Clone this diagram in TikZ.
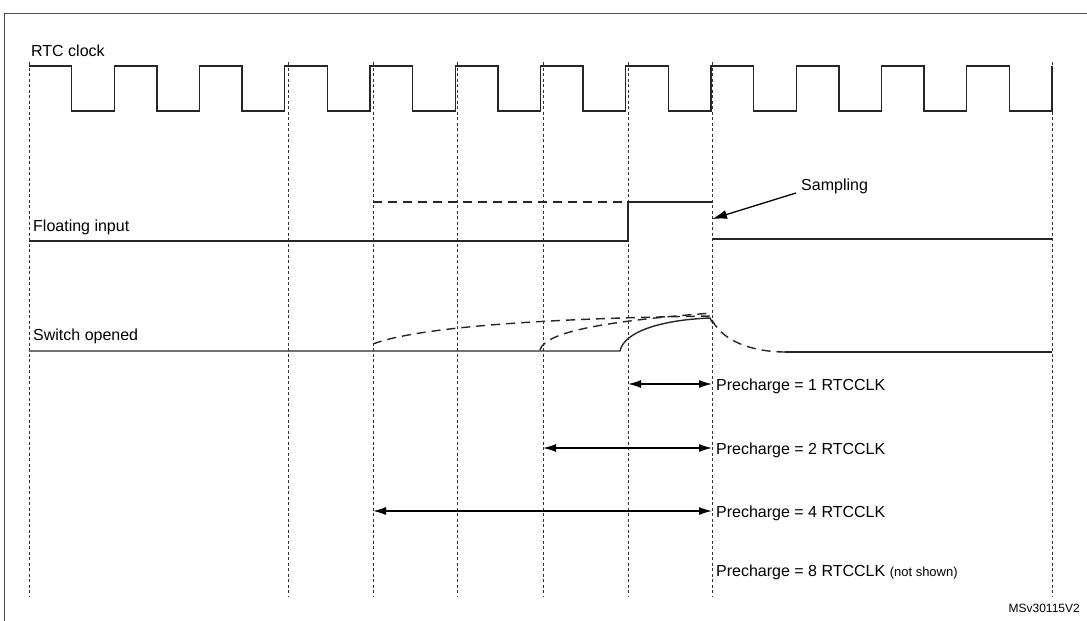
\documentclass[tikz,border=0pt]{standalone}
\usepackage{fontspec}
\setmainfont{Liberation Sans}
\begin{document}
\begin{tikzpicture}[x=1pt,y=-1pt,
  sig/.style={line width=1.4pt,black!85},
  dsig/.style={line width=1.4pt,black!85,dash pattern=on 9pt off 6pt},
  grid/.style={line width=0.7pt,black!80,dash pattern=on 3pt off 2.5pt},
  lbl/.style={font=\fontsize{16}{19}\selectfont,inner sep=0pt,anchor=base west},
  dim/.style={line width=1.3pt,{Latex[length=13pt,width=8pt]}-{Latex[length=13pt,width=8pt]}}]
\usetikzlibrary{arrows.meta}
\useasboundingbox (0,0) rectangle (1087,621);
\draw[line width=1pt,black!70] (4,621) -- (4,13) -- (1087,13);
\foreach \x in {29,288,373,457,543,628,712,1052}
  \draw[grid] (\x,62) -- (\x,596);
% clock
\draw[sig] (29,66) foreach \k in {0,...,11} {
   -- ({29+85.25*\k+42.6},66) -- ({29+85.25*\k+42.6},111) -- ({29+85.25*(\k+1)},111) -- ({29+85.25*(\k+1)},66)};
\node[lbl] (rtc) at (31,56) {RTC clock};
% floating
\node[lbl] (fi) at (33,231) {Floating input};
\draw[sig] (29,241) -- (628,241) -- (628,202) -- (712,202);
\draw[dsig] (373,202) -- (628,202);
\draw[sig] (712,239) -- (1052,239);
\node[lbl] (samp) at (801,190) {Sampling};
\coordinate (sp) at (712,219);
\draw[line width=1.3pt,-{Latex[length=15pt,width=9pt]}] (796,193) -- (sp);
% switch
\node[lbl] (sw) at (33,340) {Switch opened};
\draw[sig] (29,351) -- (620,351) .. controls (624,332) and (660,320) .. (710,318) -- (712,322);
\draw[dsig] (373,344) .. controls (420,326) and (560,318) .. (712,316);
\draw[dsig] (540,350) .. controls (545,330) and (620,320) .. (712,313);
\draw[dsig] (712,320) .. controls (725,345) and (760,352) .. (785,352);
\draw[sig] (785,352) -- (1052,352);
% precharge
\coordinate (a1) at (628,384); \coordinate (b1) at (712,384);
\coordinate (a2) at (543,448); \coordinate (b2) at (712,448);
\coordinate (a4) at (373,511); \coordinate (b4) at (712,511);
\draw[dim] (a1) -- (b1);
\draw[dim] (a2) -- (b2);
\draw[dim] (a4) -- (b4);
\node[lbl] (p1) at (716,390) {Precharge = 1 RTCCLK};
\node[lbl] (p2) at (716,454) {Precharge = 2 RTCCLK};
\node[lbl] (p4) at (716,517) {Precharge = 4 RTCCLK};
\node[lbl] (p8) at (716,576) {Precharge = 8 RTCCLK {\fontsize{13}{15}\selectfont(not shown)}};
\node[lbl,anchor=base east,font=\fontsize{12}{14}\selectfont] (ms) at (1080,612) {MSv30115V2};
\end{tikzpicture}
\end{document}
